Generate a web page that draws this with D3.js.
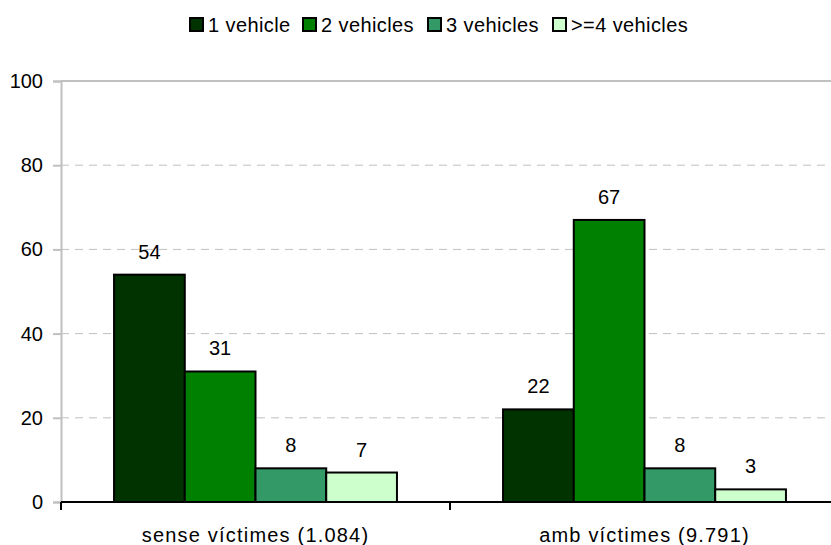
<!DOCTYPE html>
<html>
<head>
<meta charset="utf-8">
<script src="https://cdn.jsdelivr.net/npm/d3@7/dist/d3.min.js"></script>
<style>
  html, body { margin: 0; padding: 0; background: #fff; }
  svg { display: block; }
</style>
</head>
<body>
<div id="chart"></div>
<script>
const categories = ['sense víctimes (1.084)', 'amb víctimes (9.791)']
const seriesNames = ['1 vehicle', '2 vehicles', '3 vehicles', '>=4 vehicles']
const seriesColors = ['#003300', '#008000', '#339966', '#ccffcc']
const values = [
  [54, 31, 8, 7],
  [22, 67, 8, 3]
]
const yTicks = [0, 20, 40, 60, 80, 100]

const width = 831
const height = 545
const margin = { top: 81, right: -8, bottom: 43, left: 61 }
const font = 'Arial, "Liberation Sans", sans-serif'
const fontSize = 20

const svg = d3.select('#chart')
  .append('svg')
  .attr('width', width)
  .attr('height', height)
  .style('font-family', font)

const x0 = d3.scaleBand()
  .domain(categories)
  .range([margin.left, width - margin.right])
  .paddingInner(0)
  .paddingOuter(0)

const x1 = d3.scaleBand()
  .domain(seriesNames)
  .range([0, x0.bandwidth()])
  .paddingInner(0)
  .paddingOuter(0.75)

const y = d3.scaleLinear()
  .domain([0, 100])
  .range([height - margin.bottom, margin.top])

// gridlines
svg.append('g')
  .selectAll('line')
  .data(yTicks.filter((t) => t > 0))
  .join('line')
  .attr('x1', margin.left)
  .attr('x2', width)
  .attr('y1', (d) => y(d))
  .attr('y2', (d) => y(d))
  .attr('stroke', '#c0c0c0')
  .attr('stroke-width', (d) => (d === 100 ? 2 : 1))
  .attr('stroke-dasharray', (d) => (d === 100 ? null : '8,6'))

// y axis
const yAxis = svg.append('g')
  .attr('transform', `translate(${margin.left},0)`)
  .call(d3.axisLeft(y).tickValues(yTicks).tickSize(8).tickPadding(10))
yAxis.select('.domain')
  .attr('stroke', '#c0c0c0')
  .attr('stroke-width', 2)
yAxis.selectAll('.tick line')
  .attr('stroke', '#c0c0c0')
  .attr('stroke-width', 2)
yAxis.selectAll('.tick text')
  .attr('font-family', font)
  .attr('font-size', fontSize)
  .attr('fill', '#000')

// bars
const groups = svg.append('g')
  .selectAll('g')
  .data(categories)
  .join('g')
  .attr('transform', (d) => `translate(${x0(d)},0)`)

groups.selectAll('rect')
  .data((d, i) => seriesNames.map((s, j) => ({ s, v: values[i][j], c: seriesColors[j] })))
  .join('rect')
  .attr('x', (d) => x1(d.s))
  .attr('y', (d) => y(d.v))
  .attr('width', x1.bandwidth())
  .attr('height', (d) => y(0) - y(d.v))
  .attr('fill', (d) => d.c)
  .attr('stroke', '#000')
  .attr('stroke-width', 2)

groups.selectAll('text.val')
  .data((d, i) => seriesNames.map((s, j) => ({ s, v: values[i][j] })))
  .join('text')
  .attr('class', 'val')
  .attr('x', (d) => x1(d.s) + x1.bandwidth() / 2)
  .attr('y', (d) => y(d.v) - 16)
  .attr('text-anchor', 'middle')
  .attr('font-size', fontSize)
  .attr('fill', '#000')
  .text((d) => d.v)

// x axis
const xAxisY = y(0)
svg.append('line')
  .attr('x1', margin.left)
  .attr('x2', width)
  .attr('y1', xAxisY)
  .attr('y2', xAxisY)
  .attr('stroke', '#000')
  .attr('stroke-width', 2)

const boundaries = categories.map((c) => x0(c)).concat([x0(categories[1]) + x0.bandwidth()])
svg.append('g')
  .selectAll('line')
  .data(boundaries)
  .join('line')
  .attr('x1', (d) => d)
  .attr('x2', (d) => d)
  .attr('y1', xAxisY)
  .attr('y2', xAxisY + 8)
  .attr('stroke', '#000')
  .attr('stroke-width', 2)

svg.append('g')
  .selectAll('text')
  .data(categories)
  .join('text')
  .attr('x', (d) => x0(d) + x0.bandwidth() / 2)
  .attr('y', xAxisY + 40)
  .attr('text-anchor', 'middle')
  .attr('font-size', fontSize)
  .attr('letter-spacing', 1.2)
  .attr('fill', '#000')
  .text((d) => d)

// legend
const legendX = [190, 303, 428, 553]
const legend = svg.append('g')
  .selectAll('g')
  .data(seriesNames)
  .join('g')
  .attr('transform', (d, i) => `translate(${legendX[i]},18)`)

legend.append('rect')
  .attr('x', 0)
  .attr('y', 0)
  .attr('width', 13)
  .attr('height', 13)
  .attr('fill', (d, i) => seriesColors[i])
  .attr('stroke', '#000')
  .attr('stroke-width', 2)

legend.append('text')
  .attr('x', 18)
  .attr('y', 14)
  .attr('font-size', fontSize)
  .attr('letter-spacing', 0.4)
  .attr('fill', '#000')
  .text((d) => d)
</script>
</body>
</html>
